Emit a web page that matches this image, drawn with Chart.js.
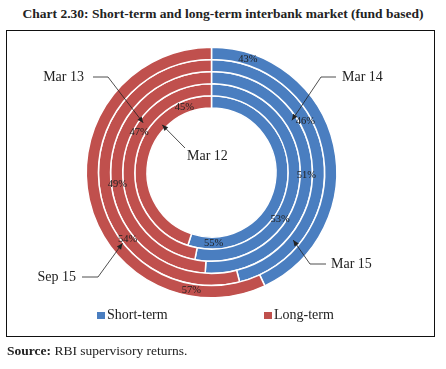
<!DOCTYPE html>
<html>
<head>
<meta charset="utf-8">
<script src="https://cdn.jsdelivr.net/npm/chart.js@4.4.0/dist/chart.umd.min.js"></script>
<style>
  body { margin: 0; width: 446px; height: 369px; background: #fff; position: relative; overflow: hidden;
         font-family: "Liberation Serif", "Times New Roman", serif; color: #222; }
  #title { position: absolute; left: 0; top: 6px; width: 446px; text-align: center; font-weight: bold; font-size: 13.5px; }
  #frame { position: absolute; left: 6px; top: 30px; width: 427px; height: 305px; border: 1.5px solid #111; }
  #chart { position: absolute; left: 0; top: 0; }
  #legend { position: absolute; left: 97px; top: 307px; font-size: 14px; white-space: nowrap; }
  #legend .item { display: inline-block; width: 167px; }
  #legend .box { display: inline-block; width: 8px; height: 7px; margin-right: 2px; }
  #source { position: absolute; left: 7px; top: 343px; font-size: 13.5px; }
</style>
</head>
<body>
<div id="title">Chart 2.30: Short-term and long-term interbank market (fund based)</div>
<div id="frame"></div>
<canvas id="chart" width="446" height="369"></canvas>
<div id="legend"></div>
<div id="source"><b>Source:</b> RBI supervisory returns.</div>
<script>
// rings, outermost first (Chart.js draws dataset 0 on the outside)
const categories = ['Short-term', 'Long-term'];
const periods = ['Sep 15', 'Mar 15', 'Mar 14', 'Mar 13', 'Mar 12'];
const shortTerm = [43, 46, 51, 53, 55];
const longTerm = [57, 54, 49, 47, 45];
const colors = ['#4A7EC0', '#C0504D'];

// where along each segment the % label sits (0 = start, 1 = end)
const labelFrac = [[0.115, 0.17], [0.37, 0.34], [0.5, 0.45], [0.65, 0.64], [0.9, 0.86]];

// date callouts: ring, tip angle (deg clockwise from top), depth in ring, text + leader line
const callouts = [
  { name: 'Mar 12', deg: 314, depth: 0.34, tx: 187, ty: 156, align: 'left', path: [[185, 148]] },
  { name: 'Mar 13', deg: 306, depth: 0.64, tx: 84, ty: 77, align: 'right', path: [[93, 77], [108, 77]] },
  { name: 'Mar 14', deg: 57, depth: 0.58, tx: 342, ty: 77, align: 'left', path: [[336, 77], [321, 77]] },
  { name: 'Mar 15', deg: 129.6, depth: 0.42, tx: 331, ty: 264, align: 'left', path: [[326, 264], [310, 264]] },
  { name: 'Sep 15', deg: 231.5, depth: 0.05, tx: 76, ty: 277, align: 'right', path: [[82, 277], [98, 277]] }
];

const ringLabels = {
  id: 'ringLabels',
  afterDatasetsDraw(chart) {
    const ctx = chart.ctx;
    ctx.save();
    ctx.font = '10.5px "Liberation Serif"';
    ctx.fillStyle = '#222';
    ctx.textAlign = 'center';
    ctx.textBaseline = 'middle';
    chart.data.datasets.forEach((ds, i) => {
      chart.getDatasetMeta(i).data.forEach((arc, j) => {
        const p = arc.getProps(['x', 'y', 'startAngle', 'endAngle', 'innerRadius', 'outerRadius'], true);
        const a = p.startAngle + labelFrac[i][j] * (p.endAngle - p.startAngle);
        const r = (p.innerRadius + p.outerRadius) / 2;
        ctx.fillText(ds.data[j] + '%', p.x + r * Math.cos(a), p.y + r * Math.sin(a));
      });
    });

    ctx.font = '14px "Liberation Serif"';
    ctx.strokeStyle = '#222';
    ctx.lineWidth = 0.8;
    callouts.forEach(c => {
      const arc = chart.getDatasetMeta(periods.indexOf(c.name)).data[0];
      const p = arc.getProps(['x', 'y', 'innerRadius', 'outerRadius'], true);
      const a = -Math.PI / 2 + c.deg * Math.PI / 180;
      const r = p.innerRadius + c.depth * (p.outerRadius - p.innerRadius);
      const tip = [p.x + r * Math.cos(a), p.y + r * Math.sin(a)];

      ctx.textAlign = c.align;
      ctx.fillText(c.name, c.tx, c.ty);

      ctx.beginPath();
      ctx.moveTo(c.path[0][0], c.path[0][1]);
      c.path.slice(1).forEach(pt => ctx.lineTo(pt[0], pt[1]));
      ctx.lineTo(tip[0], tip[1]);
      ctx.stroke();

      const prev = c.path[c.path.length - 1];
      const ang = Math.atan2(tip[1] - prev[1], tip[0] - prev[0]);
      ctx.beginPath();
      ctx.moveTo(tip[0], tip[1]);
      ctx.lineTo(tip[0] - 6 * Math.cos(ang) + 2.6 * Math.sin(ang), tip[1] - 6 * Math.sin(ang) - 2.6 * Math.cos(ang));
      ctx.lineTo(tip[0] - 6 * Math.cos(ang) - 2.6 * Math.sin(ang), tip[1] - 6 * Math.sin(ang) + 2.6 * Math.cos(ang));
      ctx.closePath();
      ctx.fill();
    });
    ctx.restore();
  }
};

new Chart('chart', {
  type: 'doughnut',
  data: {
    labels: categories,
    datasets: periods.map((p, i) => ({
      label: p,
      data: [shortTerm[i], longTerm[i]],
      backgroundColor: colors,
      borderColor: '#fff',
      borderWidth: 1.5,
    })),
  },
  options: {
    responsive: false,
    animation: false,
    cutout: '51.5%',
    layout: { padding: { left: 85.5, top: 46.5, right: 108.5, bottom: 70.5 } },
    plugins: {
      legend: { display: false },
      tooltip: { enabled: false },
    },
  },
  plugins: [ringLabels],
});

// legend
const legend = document.getElementById('legend');
categories.forEach((c, i) => {
  const item = document.createElement('span');
  item.className = 'item';
  item.innerHTML = '<span class="box" style="background:' + colors[i] + '"></span>' + c;
  legend.appendChild(item);
});
</script>
</body>
</html>
